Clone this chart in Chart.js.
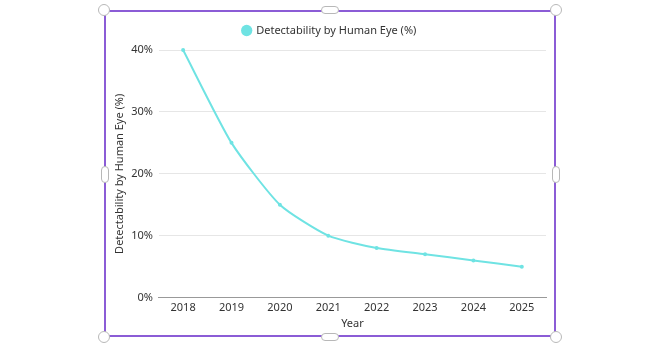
<!DOCTYPE html>
<html>
<head>
<meta charset="utf-8">
<script src="https://cdn.jsdelivr.net/npm/chart.js@4"></script>
<style>
  html, body { margin: 0; padding: 0; background: #fff; }
  body { width: 668px; height: 350px; position: relative; overflow: hidden; }
  #frame {
    position: absolute; left: 104px; top: 10px; width: 452px; height: 327px;
    border: 2px solid #8b5cd6; box-sizing: border-box;
  }
  #wrap { position: absolute; left: 106px; top: 10px; width: 448px; height: 323px; }
  .corner {
    position: absolute; width: 12px; height: 12px; border-radius: 50%;
    background: #fff; border: 1px solid #b8b8b8; box-sizing: border-box;
  }
  .pill {
    position: absolute; background: #fff; border: 1px solid #b8b8b8; box-sizing: border-box; border-radius: 4px;
  }
</style>
</head>
<body>
<div id="wrap"><canvas id="chart"></canvas></div>
<div id="frame"></div>
<div class="corner" style="left:98px;top:4px"></div>
<div class="corner" style="left:550px;top:4px"></div>
<div class="corner" style="left:98px;top:331px"></div>
<div class="corner" style="left:550px;top:331px"></div>
<div class="pill" style="left:321px;top:6px;width:18px;height:8px"></div>
<div class="pill" style="left:321px;top:333px;width:18px;height:8px"></div>
<div class="pill" style="left:101px;top:166px;width:8px;height:17px"></div>
<div class="pill" style="left:552px;top:166px;width:8px;height:17px"></div>
<script>
// données
const years = ["2018", "2019", "2020", "2021", "2022", "2023", "2024", "2025"];
const detectability = [40, 25, 15, 10, 8, 7, 6, 5];
const seriesLabel = "Detectability by Human Eye (%)";

const lineColor = "#6fe3e3";
Chart.defaults.font.family = "'Noto Sans', sans-serif";
Chart.defaults.font.size = 11;
Chart.defaults.color = "#333";

// un peu plus d'espace sous la légende
const legendGap = {
  id: "legendGap",
  beforeInit(chart) {
    const fit = chart.legend.fit;
    chart.legend.fit = function () {
      fit.bind(chart.legend)();
      this.height += 4;
    };
  }
};

new Chart(document.getElementById("chart"), {
  type: "line",
  data: {
    labels: years,
    datasets: [{
      label: seriesLabel,
      data: detectability,
      borderColor: lineColor,
      backgroundColor: lineColor,
      borderWidth: 2,
      pointRadius: 2,
      pointBorderWidth: 0,
      fill: false,
      tension: 0.2,
      clip: false
    }]
  },
  plugins: [legendGap],
  options: {
    responsive: true,
    maintainAspectRatio: false,
    animation: false,
    layout: { padding: { left: 7, right: 8, top: 2, bottom: 3 } },
    plugins: {
      legend: {
        display: true,
        labels: { usePointStyle: true, pointStyle: "circle", boxWidth: 8, boxHeight: 8, padding: 13 }
      },
      tooltip: { enabled: false }
    },
    scales: {
      x: {
        offset: true,
        grid: { display: false, drawTicks: false },
        border: { display: true, color: "#999" },
        ticks: { padding: 4 },
        title: { display: true, text: "Year", padding: { top: -2, bottom: 0 } }
      },
      y: {
        min: 0,
        max: 40,
        ticks: { stepSize: 10, callback: v => v + "%", padding: 6 },
        grid: { color: "#e6e6e6", drawTicks: false },
        border: { display: false },
        title: { display: true, text: seriesLabel, padding: { top: 0, bottom: -1 } }
      }
    }
  }
});
</script>
</body>
</html>
